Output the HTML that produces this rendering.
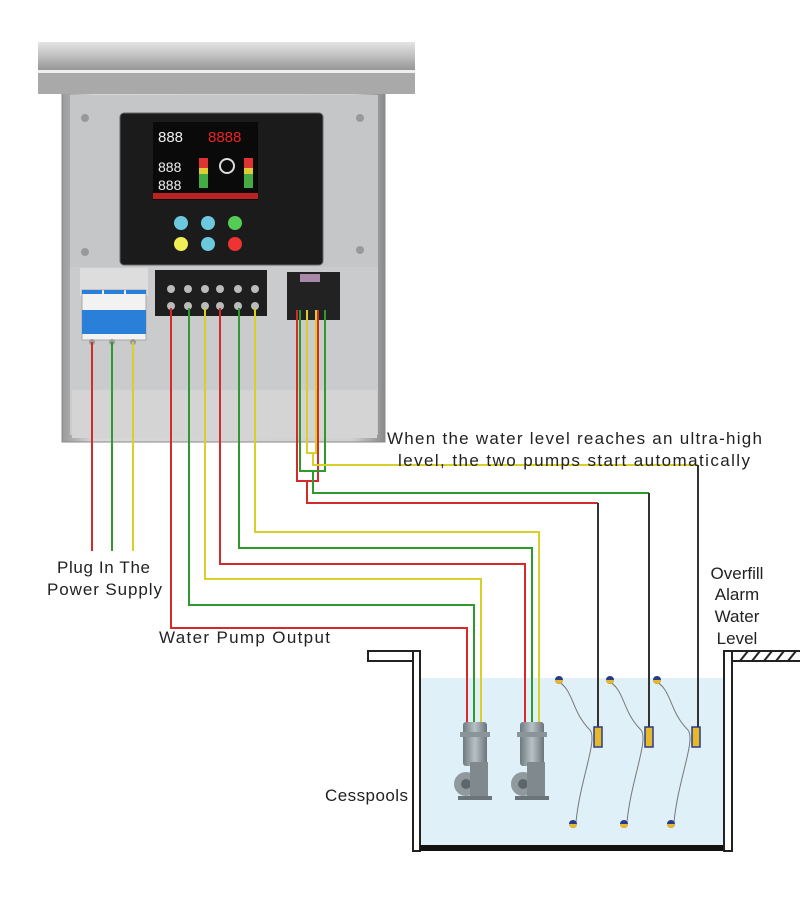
<!DOCTYPE html>
<html><head><meta charset="utf-8"><style>
html,body{margin:0;padding:0;background:#fff;}
svg{display:block;}
text{font-family:"Liberation Sans","DejaVu Sans",sans-serif;fill:#222;}
</style></head><body>
<svg width="800" height="910" viewBox="0 0 800 910" xmlns="http://www.w3.org/2000/svg">
<defs>
<linearGradient id="lid" x1="0" y1="0" x2="0" y2="1"><stop offset="0" stop-color="#e4e4e4"/><stop offset="0.5" stop-color="#bdbdbd"/><stop offset="1" stop-color="#8f8f8f"/></linearGradient>
<linearGradient id="body" x1="0" y1="0" x2="1" y2="0"><stop offset="0" stop-color="#9a9a9a"/><stop offset="0.1" stop-color="#d8d8d8"/><stop offset="0.9" stop-color="#d0d0d0"/><stop offset="1" stop-color="#8a8a8a"/></linearGradient>
<linearGradient id="pump" x1="0" y1="0" x2="1" y2="0"><stop offset="0" stop-color="#6f7a80"/><stop offset="0.5" stop-color="#b8c2c6"/><stop offset="1" stop-color="#6a747a"/></linearGradient>
</defs>

<!-- enclosure -->
<rect x="62" y="92" width="323" height="350" fill="url(#body)" stroke="#888"/>
<rect x="70" y="95" width="308" height="340" fill="#c9cbcc"/>
<rect x="70" y="95" width="308" height="172" fill="#c4c6c8"/>
<rect x="72" y="390" width="305" height="48" fill="#d4d4d4"/>
<rect x="38" y="42" width="377" height="30" fill="url(#lid)"/>
<rect x="38" y="70" width="377" height="24" fill="#a9a9a9"/>
<rect x="38" y="70" width="377" height="3" fill="#eee"/>
<circle cx="85" cy="118" r="4" fill="#999"/><circle cx="360" cy="118" r="4" fill="#999"/>
<circle cx="85" cy="252" r="4" fill="#999"/><circle cx="360" cy="250" r="4" fill="#999"/>

<!-- display -->
<rect x="120" y="113" width="203" height="152" rx="4" fill="#1b1b1b" stroke="#666"/>
<rect x="153" y="122" width="105" height="78" fill="#0a0a0a"/>
<text x="158" y="142" font-size="15" style="fill:#eee">888</text>
<text x="208" y="142" font-size="15" style="fill:#e22">8888</text>
<text x="158" y="172" font-size="14" style="fill:#eee">888</text>
<text x="158" y="190" font-size="14" style="fill:#eee">888</text>
<rect x="199" y="158" width="9" height="30" fill="#4a4"/><rect x="199" y="158" width="9" height="10" fill="#d33"/><rect x="199" y="168" width="9" height="6" fill="#dc3"/>
<rect x="244" y="158" width="9" height="30" fill="#4a4"/><rect x="244" y="158" width="9" height="10" fill="#d33"/><rect x="244" y="168" width="9" height="6" fill="#dc3"/>
<circle cx="227" cy="166" r="7" fill="none" stroke="#ddd" stroke-width="2"/>
<rect x="153" y="193" width="105" height="6" fill="#b22"/>
<circle cx="181" cy="223" r="7" fill="#6cc8dd"/><circle cx="208" cy="223" r="7" fill="#6cc8dd"/><circle cx="235" cy="223" r="7" fill="#5c5"/>
<circle cx="181" cy="244" r="7" fill="#ee5"/><circle cx="208" cy="244" r="7" fill="#6cc8dd"/><circle cx="235" cy="244" r="7" fill="#e33"/>

<!-- breaker -->
<rect x="80" y="268" width="68" height="28" fill="#ddd"/>
<rect x="82" y="290" width="64" height="50" fill="#f2f2f2" stroke="#aaa"/>
<rect x="82" y="310" width="64" height="24" fill="#2a7fd8"/>
<rect x="82" y="290" width="20" height="4" fill="#2a7fd8"/><rect x="104" y="290" width="20" height="4" fill="#2a7fd8"/><rect x="126" y="290" width="20" height="4" fill="#2a7fd8"/>
<circle cx="92" cy="342" r="3" fill="#999"/><circle cx="112" cy="342" r="3" fill="#999"/><circle cx="133" cy="342" r="3" fill="#999"/>
<!-- terminal block -->
<rect x="155" y="270" width="112" height="46" fill="#1e1e1e"/>
<g fill="#bbb"><circle cx="171" cy="289" r="4"/><circle cx="188" cy="289" r="4"/><circle cx="205" cy="289" r="4"/><circle cx="220" cy="289" r="4"/><circle cx="238" cy="289" r="4"/><circle cx="255" cy="289" r="4"/>
<circle cx="171" cy="306" r="4"/><circle cx="188" cy="306" r="4"/><circle cx="205" cy="306" r="4"/><circle cx="220" cy="306" r="4"/><circle cx="238" cy="306" r="4"/><circle cx="255" cy="306" r="4"/></g>
<!-- small block -->
<rect x="287" y="272" width="53" height="48" fill="#222"/>
<rect x="300" y="274" width="20" height="8" fill="#a8a"/>

<!-- tank -->
<rect x="420" y="678" width="304" height="168" fill="#dff0f8"/>
<rect x="368" y="651" width="45" height="10" fill="#fff" stroke="#222" stroke-width="2"/>
<rect x="413" y="651" width="7" height="200" fill="#fff" stroke="#222" stroke-width="2"/>
<rect x="420" y="845" width="304" height="6" fill="#111"/>
<rect x="724" y="651" width="8" height="200" fill="#fff" stroke="#222" stroke-width="2"/>
<rect x="732" y="651" width="70" height="10" fill="#fff" stroke="#222" stroke-width="2"/>
<g stroke="#222" stroke-width="2"><line x1="740" y1="661" x2="748" y2="651"/><line x1="752" y1="661" x2="760" y2="651"/><line x1="764" y1="661" x2="772" y2="651"/><line x1="776" y1="661" x2="784" y2="651"/><line x1="788" y1="661" x2="796" y2="651"/></g>

<!-- wires -->
<g fill="none" stroke-width="2">
<polyline points="92,342 92,551" stroke="#d42a2a"/>
<polyline points="112,342 112,551" stroke="#2e9a2e"/>
<polyline points="133,342 133,551" stroke="#d8cf2a"/>
<polyline points="171,308 171,628 467,628 467,724" stroke="#d42a2a"/>
<polyline points="189,308 189,605 474,605 474,724" stroke="#2e9a2e"/>
<polyline points="205,308 205,579 481,579 481,724" stroke="#d8cf2a"/>
<polyline points="220,308 220,564 525,564 525,724" stroke="#d42a2a"/>
<polyline points="239,308 239,548 532,548 532,724" stroke="#2e9a2e"/>
<polyline points="255,308 255,532 539,532 539,724" stroke="#d8cf2a"/>
<polyline points="297,310 297,481 318,481 318,310" stroke="#d42a2a"/>
<polyline points="300,310 300,471 325,471 325,310" stroke="#2e9a2e"/>
<polyline points="307,310 307,453 316,453 316,310" stroke="#d8cf2a"/>
<polyline points="313,453 313,465 698,465" stroke="#d8cf2a"/>
<polyline points="313,471 313,493 649,493" stroke="#2e9a2e"/>
<polyline points="307,481 307,503 598,503" stroke="#d42a2a"/>
</g>

<!-- float lines -->
<g stroke="#333" stroke-width="2"><line x1="598" y1="503" x2="598" y2="728"/><line x1="649" y1="493" x2="649" y2="728"/><line x1="698" y1="465" x2="698" y2="728"/></g>
<g id="fl">
<path d="M556,680 C575,690 570,710 590,730 C598,740 580,780 576,822" fill="none" stroke="#777" stroke-width="1"/>
<rect x="594" y="727" width="8" height="20" fill="#e7b92a" stroke="#2a3a8a" stroke-width="1.5"/>
<circle cx="559" cy="680" r="4" fill="#2a3a8a"/><path d="M555,680 a4,4 0 0 0 8,0z" fill="#e7b92a"/>
<circle cx="573" cy="824" r="4" fill="#2a3a8a"/><path d="M569,824 a4,4 0 0 0 8,0z" fill="#e7b92a"/>
</g>
<use href="#fl" x="51"/><use href="#fl" x="98"/>

<!-- pumps -->
<g id="pm">
<rect x="463" y="722" width="24" height="44" rx="3" fill="url(#pump)"/>
<rect x="460" y="732" width="30" height="5" fill="#8a959a"/>
<circle cx="466" cy="784" r="12" fill="#8f999e"/><circle cx="466" cy="784" r="5" fill="#5d666b"/>
<rect x="470" y="762" width="18" height="38" fill="#7f898e"/>
<rect x="458" y="796" width="34" height="4" fill="#6b747a"/>
</g>
<use href="#pm" x="57"/>

<!-- labels -->
<text x="57" y="573" font-size="17" textLength="93">Plug In The</text>
<text x="47" y="595" font-size="17" textLength="115">Power Supply</text>
<text x="159" y="643" font-size="17" textLength="171">Water Pump Output</text>
<text x="387" y="444" font-size="17" textLength="375">When the water level reaches an ultra-high</text>
<text x="398" y="466" font-size="17" textLength="352">level, the two pumps start automatically</text>
<text x="737" y="579" font-size="17" text-anchor="middle">Overfill</text>
<text x="737" y="600" font-size="17" text-anchor="middle">Alarm</text>
<text x="737" y="622" font-size="17" text-anchor="middle">Water</text>
<text x="737" y="644" font-size="17" text-anchor="middle">Level</text>
<text x="325" y="801" font-size="17" textLength="83">Cesspools</text>
</svg>
</body></html>
